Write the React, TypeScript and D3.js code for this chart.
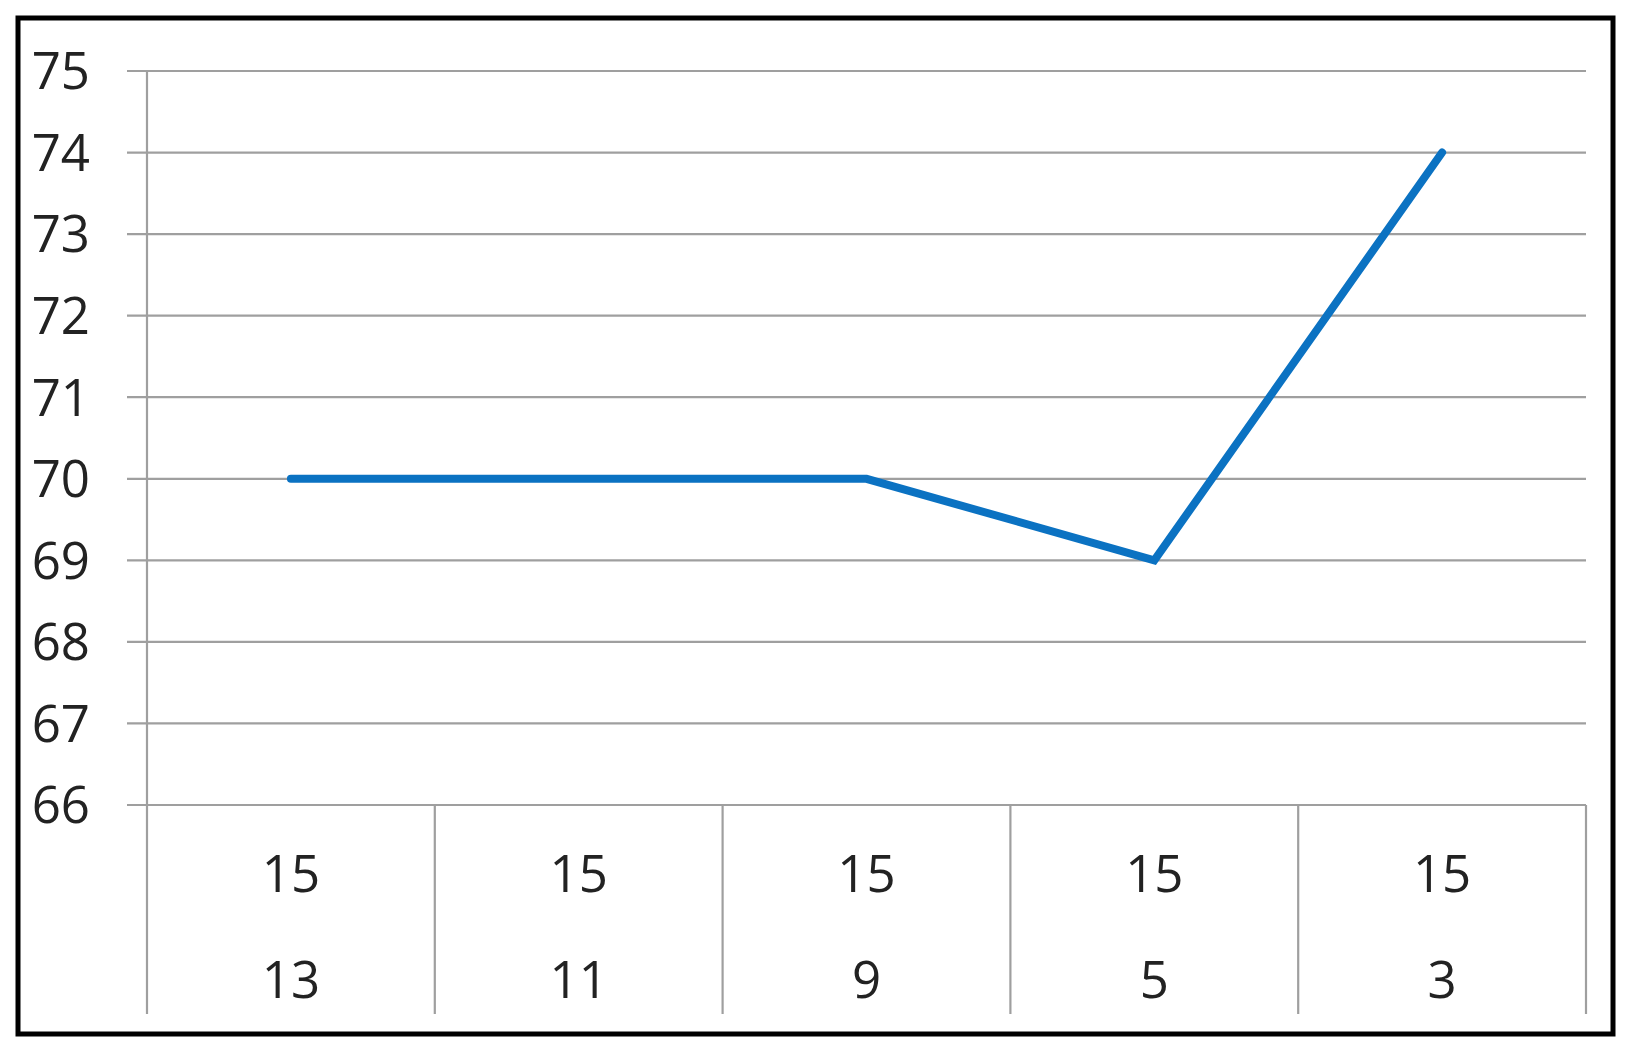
import * as d3 from "d3";

const width = 1639;
const height = 1061;

// category labels (two rows) and series values
const topLabels = ["15", "15", "15", "15", "15"];
const bottomLabels = ["13", "11", "9", "5", "3"];
const values = [70, 70, 70, 69, 74];
const yTicks = [66, 67, 68, 69, 70, 71, 72, 73, 74, 75];

const margin = { left: 147, right: 1586, top: 71, bottom: 805 };

const App = () => {
  const x = d3
    .scaleBand<number>()
    .domain(values.map((_, i) => i))
    .range([margin.left, margin.right])
    .paddingInner(0)
    .paddingOuter(0);

  const y = d3.scaleLinear().domain([66, 75]).range([margin.bottom, margin.top]);

  const line = d3
    .line<number>()
    .x((_, i) => x(i)! + x.bandwidth() / 2)
    .y((d) => y(d));

  const gridColor = "#9f9f9f";
  const labelFont = "'Open Sans', 'Noto Sans', sans-serif";
  const fontSize = 51;
  const boundaries = values.map((_, i) => x(i)!).concat([margin.right]);

  return (
    <svg
      width={width}
      height={height}
      style={{ position: "absolute", left: 0, top: 0, background: "white" }}
    >
      <rect x={0} y={0} width={width} height={height} fill="white" />
      {/* frame */}
      <rect
        x={18}
        y={18}
        width={1595}
        height={1016}
        fill="none"
        stroke="black"
        strokeWidth={5}
      />

      {/* horizontal gridlines with left tick extension */}
      {yTicks.map((t) => (
        <line
          key={t}
          x1={margin.left - 20}
          x2={margin.right}
          y1={y(t)}
          y2={y(t)}
          stroke={gridColor}
          strokeWidth={2.2}
        />
      ))}

      {/* y axis line */}
      <line
        x1={margin.left}
        x2={margin.left}
        y1={y(75)}
        y2={1014}
        stroke={gridColor}
        strokeWidth={2.2}
      />

      {/* category separators */}
      {boundaries.slice(1).map((b, i) => (
        <line
          key={i}
          x1={b}
          x2={b}
          y1={y(66)}
          y2={1014}
          stroke={gridColor}
          strokeWidth={2.2}
        />
      ))}

      {/* y labels */}
      {yTicks.map((t) => (
        <text
          key={t}
          x={90}
          y={y(t)}
          dy="0.36em"
          textAnchor="end"
          fontFamily={labelFont}
          fontSize={fontSize}
          fill="#222"
        >
          {t}
        </text>
      ))}

      {/* x labels */}
      {values.map((_, i) => (
        <g key={i}>
          <text
            x={x(i)! + x.bandwidth() / 2}
            y={874}
            dy="0.36em"
            textAnchor="middle"
            fontFamily={labelFont}
            fontSize={fontSize}
            fill="#222"
          >
            {topLabels[i]}
          </text>
          <text
            x={x(i)! + x.bandwidth() / 2}
            y={980}
            dy="0.36em"
            textAnchor="middle"
            fontFamily={labelFont}
            fontSize={fontSize}
            fill="#222"
          >
            {bottomLabels[i]}
          </text>
        </g>
      ))}

      {/* series line */}
      <path
        d={line(values)!}
        fill="none"
        stroke="#0b72c2"
        strokeWidth={8}
        strokeLinecap="round"
        strokeLinejoin="miter"
      />
    </svg>
  );
};

export default App;
